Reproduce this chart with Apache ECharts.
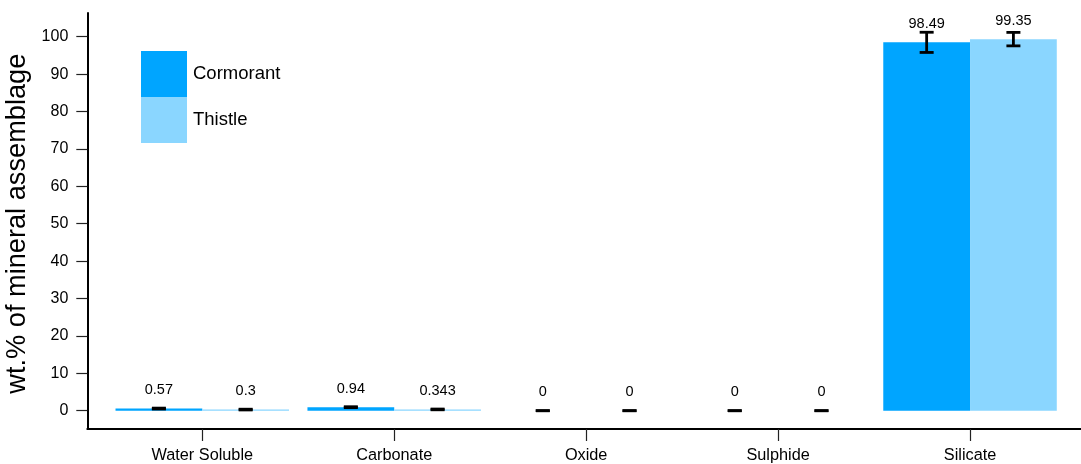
<!DOCTYPE html>
<html>
<head>
<meta charset="utf-8">
<script src="https://cdn.jsdelivr.net/npm/echarts@6/dist/echarts.min.js"></script>
<style>
html,body{margin:0;padding:0;background:#fff;}
#c{width:1081px;height:464px;}
</style>
</head>
<body>
<div id="c"></div>
<script>
const categories = ['Water Soluble', 'Carbonate', 'Oxide', 'Sulphide', 'Silicate'];
const cormorant = [0.57, 0.94, 0, 0, 98.49];
const thistle = [0.3, 0.343, 0, 0, 99.35];
const cormorantErr = [0.12, 0.12, 0, 0, 2.7];
const thistleErr = [0.1, 0.1, 0, 0, 1.8];
const yTicks = [0, 10, 20, 30, 40, 50, 60, 70, 80, 90, 100];

const FONT = 'Liberation Sans, Arial, sans-serif';
const C1 = '#00A5FF';
const C2 = '#8AD6FF';
const GAP = 0.096;

function errSeries(name, vals, errs, side) {
  return {
    name: name + ' err',
    type: 'custom',
    xAxisIndex: 0, yAxisIndex: 0,
    z: 5,
    data: vals.map((v, i) => [i, v, errs[i]]),
    renderItem: function (params, api) {
      const i = api.value(0), v = api.value(1), e = api.value(2);
      const band = api.size([1, 0])[0];
      const bw = band * (1 - GAP) / 2;
      const c = api.coord([i, v]);
      const x = c[0] + side * bw / 2;
      const top = api.coord([i, v + e])[1];
      const bot = api.coord([i, v - e])[1];
      const hw = 7;
      const style = { stroke: '#000', lineWidth: 2.8, fill: null };
      return {
        type: 'group',
        children: [
          { type: 'line', shape: { x1: x, y1: top, x2: x, y2: bot }, style: style },
          { type: 'line', shape: { x1: x - hw, y1: top, x2: x + hw, y2: top }, style: style },
          { type: 'line', shape: { x1: x - hw, y1: bot, x2: x + hw, y2: bot }, style: style }
        ]
      };
    }
  };
}

const chart = echarts.init(document.getElementById('c'));
chart.setOption({
  animation: false,
  backgroundColor: '#fff',
  textStyle: { fontFamily: FONT },
  legend: {
    orient: 'vertical',
    left: 141, top: 51,
    itemWidth: 46, itemHeight: 46, itemGap: 0,
    padding: 0,
    icon: 'rect',
    data: ['Cormorant', 'Thistle'],
    textStyle: { fontSize: 18.5, color: '#000', fontFamily: FONT, padding: [0, 0, 0, 1] },
    itemStyle: { borderWidth: 0 }
  },
  grid: [
    { left: 106.3, right: 15, top: 36.7, bottom: 53.3, containLabel: false, outerBoundsMode: 'none' },
    { left: 87.3, right: 0, top: 13, bottom: 35, containLabel: false, outerBoundsMode: 'none' }
  ],
  xAxis: [
    {
      type: 'category', gridIndex: 0, data: categories,
      position: 'bottom',
      offset: 18.3,
      axisLine: { show: true, onZero: false, lineStyle: { color: '#000', opacity: 0 } },
      axisTick: { show: true, inside: false, alignWithLabel: true, length: 12, lineStyle: { color: '#222', width: 1.2 } },
      axisLabel: { color: '#000', fontSize: 16.3, margin: 19, fontFamily: FONT }
    },
    {
      type: 'value', gridIndex: 1, min: 0, max: 1,
      axisLine: { show: true, onZero: false, lineStyle: { color: '#000', width: 2 } },
      axisTick: { show: false }, axisLabel: { show: false }, splitLine: { show: false }
    }
  ],
  yAxis: [
    {
      type: 'value', gridIndex: 0, min: yTicks[0], max: yTicks[yTicks.length - 1], interval: 10,
      offset: 19,
      name: 'wt.% of mineral assemblage',
      nameLocation: 'middle',
      nameGap: 49,
      nameTextStyle: { fontSize: 27.2, color: '#000', fontFamily: FONT },
      axisLine: { show: false },
      axisTick: { show: true, length: 11, lineStyle: { color: '#222', width: 1.2 } },
      axisLabel: { color: '#000', fontSize: 16, margin: 19, fontFamily: FONT },
      splitLine: { show: false }
    },
    {
      type: 'value', gridIndex: 1, min: 0, max: 1,
      axisLine: { show: true, onZero: false, lineStyle: { color: '#000', width: 2 } },
      axisTick: { show: false }, axisLabel: { show: false }, splitLine: { show: false }
    }
  ],
  series: [
    {
      name: 'Cormorant', type: 'bar', xAxisIndex: 0, yAxisIndex: 0,
      data: cormorant, barGap: '0%', barCategoryGap: (GAP * 100) + '%',
      itemStyle: { color: C1 },
      label: { show: true, position: 'top', distance: 11, color: '#000', fontSize: 14.5, fontFamily: FONT }
    },
    {
      name: 'Thistle', type: 'bar', xAxisIndex: 0, yAxisIndex: 0,
      data: thistle, barGap: '0%', barCategoryGap: (GAP * 100) + '%',
      itemStyle: { color: C2 },
      label: { show: true, position: 'top', distance: 11, color: '#000', fontSize: 14.5, fontFamily: FONT }
    },
    errSeries('Cormorant', cormorant, cormorantErr, -1),
    errSeries('Thistle', thistle, thistleErr, 1)
  ]
});
</script>
</body>
</html>
